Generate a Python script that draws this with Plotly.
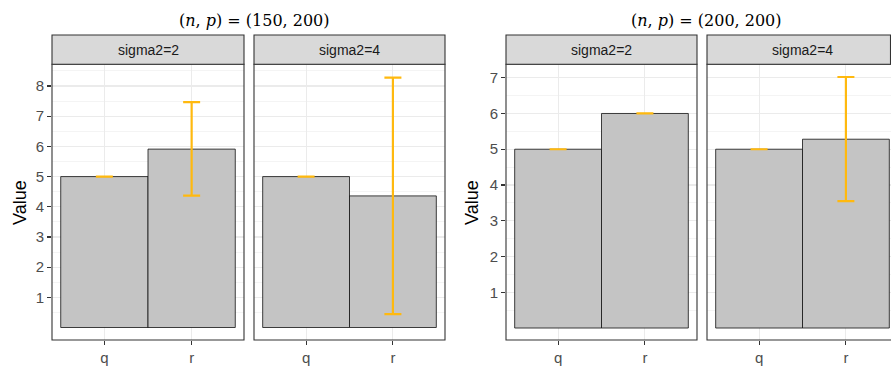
import plotly.graph_objects as go

# ---------------- data ----------------
methods = ["q", "r"]
facet_labels = ["sigma2=2", "sigma2=4"]
panel_titles = ["(<i>n</i>, <i>p</i>) = (150, 200)", "(<i>n</i>, <i>p</i>) = (200, 200)"]

mean_150_s2 = [5.0, 5.91]
low_150_s2 = [5.0, 4.37]
high_150_s2 = [5.0, 7.47]

mean_150_s4 = [5.0, 4.36]
low_150_s4 = [5.0, 0.44]
high_150_s4 = [5.0, 8.28]

mean_200_s2 = [5.0, 6.0]
low_200_s2 = [5.0, 6.0]
high_200_s2 = [5.0, 6.0]

mean_200_s4 = [5.0, 5.28]
low_200_s4 = [5.0, 3.55]
high_200_s4 = [5.0, 7.02]

y_ticks_150 = [1, 2, 3, 4, 5, 6, 7, 8]
y_ticks_200 = [1, 2, 3, 4, 5, 6, 7]

# ---------------- layout helpers ----------------
W, H = 891, 370
def fx(p):
    return p / W
def fy(p):
    return 1 - p / H

BAR_FILL = "#C4C4C4"
ERR_COL = "#FFB90F"
DARK = "#333333"
GRID = "#EBEBEB"
TICKFONT = dict(family="Liberation Sans, Arial", size=15, color="#4D4D4D")

facets = [
    (mean_150_s2, low_150_s2, high_150_s2, "x", "y", (52, 244)),
    (mean_150_s4, low_150_s4, high_150_s4, "x2", "y", (254, 445)),
    (mean_200_s2, low_200_s2, high_200_s2, "x3", "y2", (506, 697)),
    (mean_200_s4, low_200_s4, high_200_s4, "x4", "y2", (707, 891)),
]

panel_top, panel_bot = 64.3, 340
strip_top = 35

fig = go.Figure()
for mean, lo, hi, xa, ya, _ in facets:
    fig.add_trace(go.Bar(
        x=methods, y=mean, width=1.0,
        xaxis=xa, yaxis=ya,
        marker=dict(color=BAR_FILL, line=dict(color="#111111", width=0.8)),
        error_y=dict(type="data", symmetric=False,
                     array=[h - m for h, m in zip(hi, mean)],
                     arrayminus=[m - l for m, l in zip(mean, lo)],
                     color=ERR_COL, thickness=2.2, width=8.5),
        hoverinfo="skip", showlegend=False,
    ))

ydom = [fy(panel_bot), fy(panel_top)]
xaxis_common = dict(
    type="category", showgrid=True, gridcolor=GRID, gridwidth=1.1,
    zeroline=False, ticks="outside", ticklen=4, tickcolor=DARK, tickwidth=1.1,
    tickfont=TICKFONT, showline=False, fixedrange=True,
)
layout = dict(
    width=W, height=H, margin=dict(l=0, r=0, t=0, b=0),
    paper_bgcolor="white", plot_bgcolor="white",
    bargap=0, showlegend=False,
)
for i, (mean, lo, hi, xa, ya, (px0, px1)) in enumerate(facets):
    key = "xaxis" if xa == "x" else "xaxis" + xa[1:]
    rng = [-0.6, 1.6]
    if i == 3:
        # last facet is cut off by the image edge
        unit = (697 - 506) / 2.2
        rng = [-0.6, -0.6 + (px1 - px0) / unit]
    layout[key] = dict(xaxis_common, domain=[fx(px0), fx(px1)], anchor=ya, range=rng)

def yaxis_def(ticks, rng, anchor):
    return dict(
        domain=ydom, anchor=anchor, range=rng,
        tickvals=ticks, ticktext=[str(t) for t in ticks],
        showgrid=True, gridcolor=GRID, gridwidth=1.1, zeroline=False,
        ticks="outside", ticklen=4, tickcolor=DARK, tickwidth=1.1,
        tickfont=TICKFONT,
        minor=dict(tickvals=[t - 0.5 for t in ticks] + [ticks[-1] + 0.5],
                   showgrid=True, gridcolor=GRID, gridwidth=0.55, ticks=""),
        showline=False, fixedrange=True,
    )

layout["yaxis"] = yaxis_def(y_ticks_150, [-0.414, 8.72], "x")
layout["yaxis2"] = yaxis_def(y_ticks_200, [-0.335, 7.375], "x3")

shapes = []
annotations = []
for i, (mean, lo, hi, xa, ya, (px0, px1)) in enumerate(facets):
    x1 = fx(px1) if i < 3 else 1.02
    shapes.append(dict(type="rect", xref="paper", yref="paper",
                       x0=fx(px0), x1=x1, y0=fy(panel_bot), y1=fy(panel_top),
                       line=dict(color=DARK, width=1.1), fillcolor="rgba(0,0,0,0)",
                       layer="above"))
    shapes.append(dict(type="rect", xref="paper", yref="paper",
                       x0=fx(px0), x1=fx(px1) if i < 3 else fx(890.5),
                       y0=fy(panel_top), y1=fy(strip_top),
                       line=dict(color=DARK, width=1.1), fillcolor="#D9D9D9",
                       layer="above"))
    cx = (px0 + px1) / 2 if i < 3 else (px0 + px0 + 191) / 2
    annotations.append(dict(xref="paper", yref="paper", x=fx(cx),
                            y=fy((strip_top + panel_top) / 2),
                            text=facet_labels[i % 2], showarrow=False,
                            xanchor="center", yanchor="middle",
                            font=dict(family="Liberation Sans, Arial", size=14, color="#1A1A1A")))

for title, cx in zip(panel_titles, [255, 706]):
    annotations.append(dict(xref="paper", yref="paper", x=fx(cx), y=fy(20),
                            text=title, showarrow=False, xanchor="center", yanchor="middle",
                            font=dict(family="DejaVu Serif", size=16, color="black")))

for cx in [20, 472]:
    annotations.append(dict(xref="paper", yref="paper", x=fx(cx), y=fy(203),
                            text="Value", showarrow=False, textangle=-90,
                            xanchor="center", yanchor="middle",
                            font=dict(family="Liberation Sans, Arial", size=18, color="black")))

layout["shapes"] = shapes
layout["annotations"] = annotations
fig.update_layout(**layout)

fig.write_html("out.html", config={"displayModeBar": False, "staticPlot": True},
               post_script="document.body.style.margin='0px';document.body.style.overflow='hidden';")
